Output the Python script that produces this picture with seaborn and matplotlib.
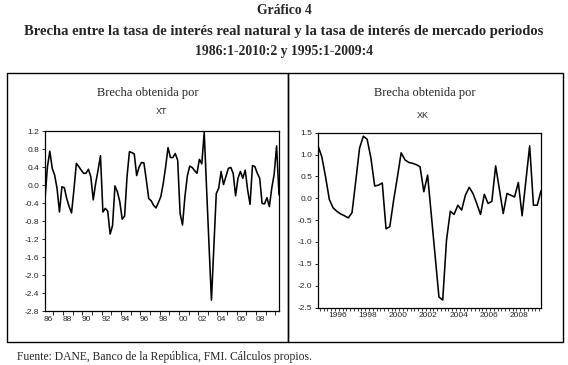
import matplotlib
matplotlib.use("Agg")
from matplotlib import pyplot as plt
from matplotlib.patches import Rectangle
import numpy as np
import pandas as pd
import seaborn as sns

# brecha XT, trimestral 1986:1 - 2010:2
xt_periods = pd.period_range("1986Q1", "2010Q2", freq="Q")
xt_gap = [-0.30, 0.40, 0.75, 0.37, 0.22, -0.08, -0.60, -0.04, -0.06, -0.30,
          -0.48, -0.62, -0.10, 0.48, 0.41, 0.33, 0.26, 0.26, 0.35, 0.18,
          -0.33, 0.04, 0.33, 0.65, -0.60, -0.52, -0.58, -1.09, -0.90, -0.02,
          -0.15, -0.37, -0.76, -0.69, 0.18, 0.74, 0.72, 0.69, 0.21, 0.40,
          0.50, 0.49, 0.11, -0.30, -0.35, -0.45, -0.51, -0.39, -0.26, 0.03,
          0.40, 0.83, 0.61, 0.61, 0.70, 0.55, -0.63, -0.89, -0.26, 0.20,
          0.42, 0.39, 0.32, 0.26, 0.57, 0.47, 1.17, -0.10, -1.35, -2.56,
          -1.37, -0.19, -0.07, 0.30, 0.01, 0.19, 0.37, 0.39, 0.26, -0.24,
          0.15, 0.30, 0.15, 0.33, -0.11, -0.43, 0.43, 0.41, 0.26, 0.15,
          -0.41, -0.42, -0.28, -0.48, -0.07, 0.24, 0.87, -0.22]

# brecha XK, trimestral 1995:1 - 2009:4
xk_periods = pd.period_range("1995Q1", "2009Q4", freq="Q")
xk_gap = [1.20, 0.95, 0.49, -0.03, -0.22, -0.30, -0.36, -0.40, -0.45, -0.33,
          0.40, 1.15, 1.42, 1.35, 0.92, 0.28, 0.30, 0.35, -0.70, -0.65,
          -0.05, 0.48, 1.04, 0.88, 0.82, 0.80, 0.77, 0.72, 0.15, 0.53,
          -0.40, -1.33, -2.26, -2.33, -0.96, -0.30, -0.37, -0.16, -0.27, 0.07,
          0.25, 0.11, -0.12, -0.37, 0.09, -0.12, -0.07, 0.74, 0.20, -0.35,
          0.11, 0.07, 0.03, 0.36, -0.40, 0.40, 1.20, -0.16, -0.16, 0.17]

xt_ticks = [1.2, 0.8, 0.4, 0.0, -0.4, -0.8, -1.2, -1.6, -2.0, -2.4, -2.8]
xk_ticks = [1.5, 1.0, 0.5, 0.0, -0.5, -1.0, -1.5, -2.0, -2.5]
xt_years = list(range(1986, 2010, 2))
xk_years = list(range(1996, 2010, 2))


def to_num(periods):
    return periods.year + (periods.quarter - 1) / 4


df_xt = pd.DataFrame({"t": to_num(xt_periods), "brecha": xt_gap})
df_xk = pd.DataFrame({"t": to_num(xk_periods), "brecha": xk_gap})

sns.set_style("ticks")
plt.rcParams["font.family"] = ["Liberation Sans", "DejaVu Sans"]
plt.rcParams["axes.unicode_minus"] = False

W, H = 568, 365
fig = plt.figure(figsize=(W / 100, H / 100), dpi=100)


def fx(px):
    return px / W


def fy(py):
    return 1 - py / H


ax1 = fig.add_axes([fx(45), fy(311), fx(234), 180 / H])
ax2 = fig.add_axes([fx(318), fy(307.5), fx(223), 174.8 / H])

sns.lineplot(data=df_xt, x="t", y="brecha", ax=ax1, color="black", lw=1.15)
sns.lineplot(data=df_xk, x="t", y="brecha", ax=ax2, color="black", lw=1.15)

for ax, df, yt in [(ax1, df_xt, xt_ticks), (ax2, df_xk, xk_ticks)]:
    ax.set_xlim(df["t"].iloc[0], df["t"].iloc[-1])
    ax.set_ylim(min(yt), max(yt))
    ax.set_yticks(yt, ["{:.1f}".format(v) for v in yt])
    ax.set_xlabel("")
    ax.set_ylabel("")
    for s in ax.spines.values():
        s.set_visible(True)
        s.set_linewidth(0.9)
        s.set_color("black")
    ax.tick_params(axis="y", length=2.5, width=0.7, labelsize=6, pad=1.5)
    ax.tick_params(axis="x", which="major", length=3, width=0.7)
    ax.tick_params(axis="x", which="minor", length=0, labelsize=6, pad=3.5)

# eje x izquierdo: marcas entre años, etiquetas cada dos años
ax1.set_xticks([y - 0.125 for y in range(1987, 2011)], [])
ax1.set_xticks([y + 0.3 for y in xt_years], [str(y)[2:] for y in xt_years], minor=True)

# eje x derecho: marcas trimestrales
ax2.set_xticks([1995 + 0.125 + 0.25 * k for k in range(59)], [])
ax2.tick_params(axis="x", which="major", length=2.2, width=0.6)
ax2.set_xticks([y + 0.3 for y in xk_years], [str(y) for y in xk_years], minor=True)

serif = ["Liberation Serif", "DejaVu Serif"]
fig.text(fx(284), fy(11), "Gráfico 4", ha="center", va="center",
         family=serif, fontsize=9.8, fontweight="bold")
fig.text(fx(284), fy(31), "Brecha entre la tasa de interés real natural y la tasa de interés de mercado periodos",
         ha="center", va="center", family=serif, fontsize=10.5, fontweight="bold")
fig.text(fx(284), fy(51), "1986:1-2010:2 y 1995:1-2009:4", ha="center", va="center",
         family=serif, fontsize=9.8, fontweight="bold")

fig.text(fx(148), fy(93), "Brecha obtenida por", ha="center", va="center", family=serif, fontsize=9)
fig.text(fx(162), fy(111), "XT", ha="center", va="center", fontsize=6.5)
fig.text(fx(425), fy(93), "Brecha obtenida por", ha="center", va="center", family=serif, fontsize=9)
fig.text(fx(423), fy(116), "XK", ha="center", va="center", fontsize=6.5)

fig.text(fx(17), fy(357), "Fuente: DANE, Banco de la República, FMI. Cálculos propios.",
         ha="left", va="center", family=serif, fontsize=8.4)

# marcos de los paneles
for x0, x1 in [(7, 288), (288, 563)]:
    fig.add_artist(Rectangle((fx(x0), fy(342)), fx(x1 - x0), (342 - 73) / H,
                             transform=fig.transFigure, fill=False, ec="black", lw=1.0))

fig.savefig("out.png", dpi=100)
